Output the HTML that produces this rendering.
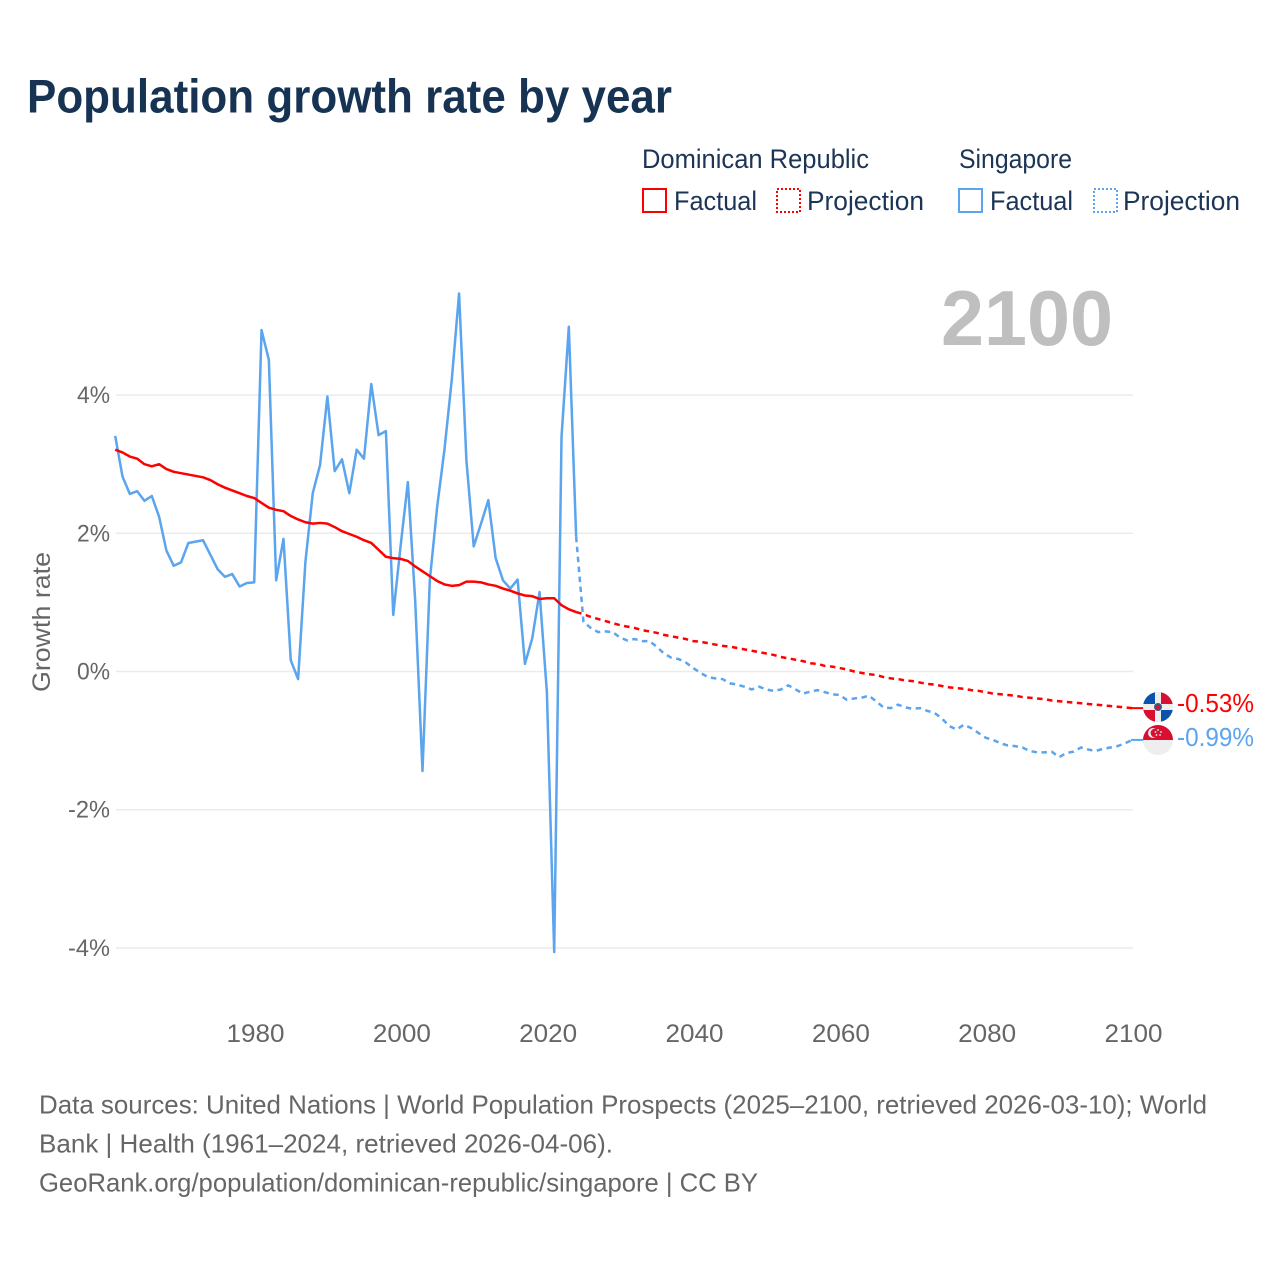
<!DOCTYPE html>
<html lang="en">
<head>
<meta charset="utf-8">
<title>Population growth rate by year</title>
<style>
html,body{margin:0;padding:0;background:#fff;}
svg{display:block;font-family:"Liberation Sans",Arial,sans-serif;}
</style>
</head>
<body>
<svg id="chart" xmlns="http://www.w3.org/2000/svg" width="1280" height="1280" viewBox="0 0 1280 1280">
  <rect x="0" y="0" width="1280" height="1280" fill="#ffffff"/>
  <text x="27" y="112.7" font-size="47" font-weight="700" fill="#173354" textLength="645" lengthAdjust="spacingAndGlyphs">Population growth rate by year</text>

  <g font-size="27" fill="#1c3557">
    <text x="642" y="168" textLength="227" lengthAdjust="spacingAndGlyphs">Dominican Republic</text>
    <text x="959" y="168" textLength="113" lengthAdjust="spacingAndGlyphs">Singapore</text>
    <rect x="643" y="189" width="23" height="23" fill="none" stroke="#ff0000" stroke-width="2"/>
    <text x="674" y="210" textLength="83" lengthAdjust="spacingAndGlyphs">Factual</text>
    <rect x="777" y="189" width="23" height="23" fill="none" stroke="#ff0000" stroke-width="2" stroke-dasharray="2 2"/>
    <text x="807" y="210" textLength="117" lengthAdjust="spacingAndGlyphs">Projection</text>
    <rect x="959" y="189" width="23" height="23" fill="none" stroke="#5ba4ee" stroke-width="2"/>
    <text x="990" y="210" textLength="83" lengthAdjust="spacingAndGlyphs">Factual</text>
    <rect x="1094" y="189" width="23" height="23" fill="none" stroke="#5ba4ee" stroke-width="2" stroke-dasharray="2 2"/>
    <text x="1123" y="210" textLength="117" lengthAdjust="spacingAndGlyphs">Projection</text>
  </g>

  <text x="941" y="345" font-size="78" font-weight="700" fill="#bfbfbf" textLength="172" lengthAdjust="spacingAndGlyphs">2100</text>
  <text transform="translate(50,692) rotate(-90)" font-size="25" fill="#666666" textLength="140" lengthAdjust="spacingAndGlyphs">Growth rate</text>

  <g id="grid"></g>
  <g id="y-ticks" font-size="24" fill="#666666" text-anchor="end"></g>
  <g id="x-ticks" font-size="25" fill="#666666" text-anchor="middle"></g>
  <g id="series"></g>

  <defs>
    <clipPath id="clip-dr"><circle cx="1158" cy="707" r="15"/></clipPath>
    <clipPath id="clip-sg"><circle cx="1158" cy="740" r="15"/></clipPath>
  </defs>
  <g id="flag-dr" clip-path="url(#clip-dr)">
    <rect x="1143" y="692" width="30" height="30" fill="#eeeeee"/>
    <rect x="1143" y="692" width="12" height="12" fill="#0b52ac"/>
    <rect x="1161" y="692" width="12" height="12" fill="#d80f31"/>
    <rect x="1143" y="710" width="12" height="12" fill="#d80f31"/>
    <rect x="1161" y="710" width="12" height="12" fill="#0b52ac"/>
    <circle cx="1158" cy="707" r="4" fill="#3a5a80"/>
    <circle cx="1158" cy="707" r="2.2" fill="#d80f31"/>
  </g>
  <g id="flag-sg" clip-path="url(#clip-sg)">
    <rect x="1143" y="725" width="30" height="30" fill="#eeeeee"/>
    <rect x="1143" y="725" width="30" height="15" fill="#d80f31"/>
    <circle cx="1153" cy="733" r="5" fill="#eeeeee"/>
    <circle cx="1155" cy="733" r="4.4" fill="#d80f31"/>
    <circle cx="1158" cy="730" r="0.9" fill="#eeeeee"/>
    <circle cx="1161" cy="732" r="0.9" fill="#eeeeee"/>
    <circle cx="1160" cy="735" r="0.9" fill="#eeeeee"/>
    <circle cx="1156.5" cy="735" r="0.9" fill="#eeeeee"/>
    <circle cx="1155.5" cy="732" r="0.9" fill="#eeeeee"/>
  </g>
  <text x="1177" y="712" font-size="26" fill="#ff0000" textLength="77" lengthAdjust="spacingAndGlyphs">-0.53%</text>
  <text x="1177" y="746" font-size="26" fill="#5ba4ee" textLength="77" lengthAdjust="spacingAndGlyphs">-0.99%</text>

  <g font-size="26" fill="#666666">
    <text x="39" y="1113.5" textLength="1168" lengthAdjust="spacingAndGlyphs">Data sources: United Nations | World Population Prospects (2025–2100, retrieved 2026-03-10); World</text>
    <text x="39" y="1152.5" textLength="574" lengthAdjust="spacingAndGlyphs">Bank | Health (1961–2024, retrieved 2026-04-06).</text>
    <text x="39" y="1191.5" textLength="719" lengthAdjust="spacingAndGlyphs">GeoRank.org/population/dominican-republic/singapore | CC BY</text>
  </g>
</svg>
<script>
const factualStartYear = 1961;
const projectionStartYear = 2025;
const xTickYears = [1980, 2000, 2020, 2040, 2060, 2080, 2100];
const yTickValues = [4, 2, 0, -2, -4];
const yTickLabels = ["4%", "2%", "0%", "-2%", "-4%"];

const drFactual = [3.21,3.17,3.11,3.08,3.00,2.97,3.00,2.93,2.89,2.87,2.85,2.83,2.81,2.77,2.71,2.66,2.62,2.58,2.54,2.51,2.44,2.37,2.34,2.32,2.25,2.20,2.16,2.14,2.15,2.14,2.09,2.03,1.99,1.95,1.90,1.86,1.76,1.66,1.64,1.63,1.60,1.52,1.45,1.38,1.31,1.26,1.24,1.25,1.30,1.30,1.29,1.26,1.24,1.20,1.17,1.13,1.10,1.09,1.05,1.06,1.06,0.96,0.90,0.86];
const drProjection = [0.83,0.79,0.76,0.73,0.70,0.67,0.65,0.63,0.60,0.58,0.56,0.53,0.51,0.49,0.47,0.44,0.43,0.41,0.39,0.37,0.36,0.34,0.32,0.30,0.28,0.26,0.24,0.21,0.19,0.17,0.15,0.12,0.11,0.08,0.07,0.05,0.03,0.00,-0.02,-0.04,-0.05,-0.08,-0.10,-0.11,-0.13,-0.14,-0.16,-0.18,-0.19,-0.21,-0.23,-0.24,-0.25,-0.27,-0.28,-0.30,-0.32,-0.33,-0.34,-0.35,-0.37,-0.38,-0.39,-0.40,-0.42,-0.43,-0.44,-0.45,-0.46,-0.47,-0.48,-0.49,-0.50,-0.51,-0.52,-0.53];
const sgFactual = [3.41,2.82,2.57,2.61,2.47,2.54,2.24,1.75,1.53,1.58,1.86,1.88,1.90,1.69,1.48,1.37,1.41,1.23,1.28,1.29,4.94,4.51,1.32,1.92,0.16,-0.11,1.59,2.58,2.99,3.98,2.90,3.07,2.58,3.21,3.08,4.16,3.42,3.48,0.82,1.81,2.74,1.03,-1.44,1.32,2.38,3.21,4.22,5.47,3.06,1.81,2.14,2.48,1.64,1.32,1.20,1.33,0.11,0.48,1.15,-0.30,-4.06,3.39,4.99,1.95];
const sgProjection = [0.72,0.63,0.57,0.58,0.57,0.49,0.45,0.47,0.44,0.44,0.36,0.26,0.20,0.18,0.13,0.05,-0.02,-0.08,-0.10,-0.11,-0.17,-0.19,-0.22,-0.26,-0.22,-0.26,-0.28,-0.26,-0.20,-0.26,-0.32,-0.29,-0.27,-0.30,-0.33,-0.34,-0.41,-0.39,-0.38,-0.35,-0.43,-0.52,-0.53,-0.48,-0.52,-0.54,-0.53,-0.57,-0.60,-0.68,-0.79,-0.84,-0.77,-0.82,-0.89,-0.96,-0.99,-1.04,-1.07,-1.08,-1.10,-1.15,-1.17,-1.17,-1.16,-1.24,-1.18,-1.16,-1.10,-1.13,-1.15,-1.12,-1.10,-1.08,-1.04,-0.99];

const SVG_NS = "http://www.w3.org/2000/svg";
const redColor = "#ff0000";
const blueColor = "#5ba4ee";
const plotLeft = 116;
const plotRight = 1133;
const seriesShift = -0.8;

function xScale(year) {
  return plotLeft + (year - 1961) * (plotRight - plotLeft) / 139;
}
function yScale(value) {
  return 671.5 - value * 69.1;
}
function pointList(values, startYear) {
  return values.map(function (v, i) {
    return (xScale(startYear + i) + seriesShift).toFixed(2) + "," + yScale(v).toFixed(2);
  }).join(" ");
}

const gridGroup = document.getElementById("grid");
const yTickGroup = document.getElementById("y-ticks");
const xTickGroup = document.getElementById("x-ticks");
const seriesGroup = document.getElementById("series");

yTickValues.forEach(function (v, i) {
  const line = document.createElementNS(SVG_NS, "line");
  
  
  line.setAttribute("x1", plotLeft);
  line.setAttribute("x2", plotRight);
  line.setAttribute("y1", yScale(v));
  line.setAttribute("y2", yScale(v));
  line.setAttribute("stroke", "#ebebeb");
  line.setAttribute("stroke-width", "1.5");
  gridGroup.appendChild(line);

  const label = document.createElementNS(SVG_NS, "text");
  
  
  label.setAttribute("x", 110);
  label.setAttribute("y", yScale(v) + 8);
  label.setAttribute("textLength", yTickLabels[i].length === 2 ? 33 : 42);
  label.setAttribute("lengthAdjust", "spacingAndGlyphs");
  label.textContent = yTickLabels[i];
  yTickGroup.appendChild(label);
});

xTickYears.forEach(function (year) {
  const label = document.createElementNS(SVG_NS, "text");
  
  
  label.setAttribute("x", xScale(year) + 0.5);
  label.setAttribute("y", 1042);
  label.setAttribute("textLength", 58);
  label.setAttribute("lengthAdjust", "spacingAndGlyphs");
  label.textContent = String(year);
  xTickGroup.appendChild(label);
});

function addLine(name, values, startYear, color, dashed) {
  const line = document.createElementNS(SVG_NS, "polyline");
  
  
  line.setAttribute("points", pointList(values, startYear));
  line.setAttribute("fill", "none");
  line.setAttribute("stroke", color);
  line.setAttribute("stroke-width", "2.5");
  line.setAttribute("stroke-linejoin", "round");
  if (dashed) {
    line.setAttribute("stroke-dasharray", "5.5 4.5");
  }
  seriesGroup.appendChild(line);
}

addLine("line-singapore-factual", sgFactual, factualStartYear, blueColor, false);
addLine("line-dominican-republic-factual", drFactual, factualStartYear, redColor, false);
addLine("line-singapore-projection", [sgFactual[sgFactual.length - 1]].concat(sgProjection), projectionStartYear - 1, blueColor, true);
addLine("line-dominican-republic-projection", [drFactual[drFactual.length - 1]].concat(drProjection), projectionStartYear - 1, redColor, true);

function addConnector(name, value, color) {
  const line = document.createElementNS(SVG_NS, "line");
  
  
  line.setAttribute("x1", plotRight - 2);
  line.setAttribute("x2", 1145);
  line.setAttribute("y1", yScale(value));
  line.setAttribute("y2", yScale(value));
  line.setAttribute("stroke", color);
  line.setAttribute("stroke-width", "2");
  seriesGroup.appendChild(line);
}
addConnector("connector-singapore", sgProjection[sgProjection.length - 1], blueColor);
addConnector("connector-dominican-republic", drProjection[drProjection.length - 1], redColor);
</script>
</body>
</html>
